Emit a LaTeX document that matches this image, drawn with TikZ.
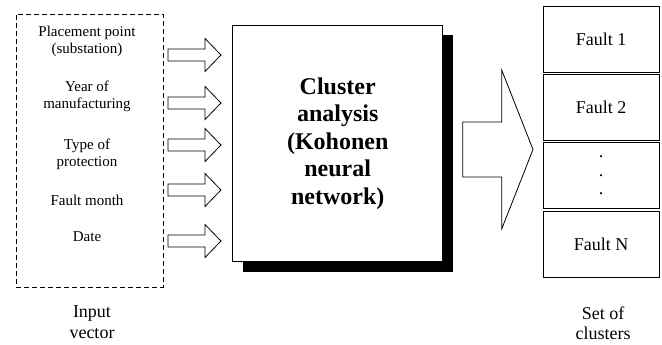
\documentclass[tikz,border=0pt]{standalone}
\usepackage{fontspec}
\setmainfont{Liberation Serif}
\usetikzlibrary{shadows}

\begin{document}
\begin{tikzpicture}[
		x=1pt, y=-1pt,
		line width=0.8pt,
		every node/.style={align=center, inner sep=0pt},
		feature/.style={font=\fontsize{15}{17}\selectfont},
		cluster/.style={draw, minimum width=116pt, minimum height=66pt, font=\fontsize{18}{18.5}\selectfont},
		caption/.style={font=\fontsize{18}{20.5}\selectfont}
	]
  \useasboundingbox (0,0) rectangle (662,345);
  % input vector
  \node (input) [draw, dash pattern=on 5pt off 3pt, minimum width=147pt, minimum height=273pt] at (89.5,150.5) {};
  \node (f_place) [feature] at (87,41) {Placement point\\(substation)};
  \node (f_year) [feature] at (87,96) {Year of\\manufacturing};
  \node (f_prot) [feature] at (87,154) {Type of\\protection};
  \node (f_month) [feature] at (87,200) {Fault month};
  \node (f_date) [feature] at (87,237) {Date};
  \node (input_label) [caption] at (92,322) {Input\\vector};
  % block arrows
  \foreach \yy in {55,103,145,190,241}
    \draw (168,\yy-6) -- (205,\yy-6) -- (205,\yy-16.5) -- (221,\yy)
      -- (205,\yy+16.5) -- (205,\yy+6) -- (168,\yy+6) -- cycle;
  % network
  \node (kohonen) [draw, fill=white, minimum width=210pt, minimum height=236.7pt,
    drop shadow={shadow xshift=10pt, shadow yshift=-10pt, opacity=1, fill=black},
    font=\bfseries\fontsize{24}{27.5}\selectfont] at (337.7,143.3)
    {Cluster\\analysis\\(Kohonen\\neural\\network)};
  \draw (462.7,122) -- (501.7,122) -- (501.7,70) -- (533,149.5)
    -- (501.7,229) -- (501.7,177) -- (462.7,177) -- cycle;
  % clusters
  \node (fault_1) [cluster] at (601,39) {Fault 1};
  \node (fault_2) [cluster] at (601,107.3) {Fault 2};
  \node (fault_dots) [cluster] at (601,175.6) {.\\.\\.};
  \node (fault_n) [cluster] at (601,244) {Fault N};
  \node (clusters_label) [caption] at (603,323) {Set of\\clusters};
\end{tikzpicture}
\end{document}
